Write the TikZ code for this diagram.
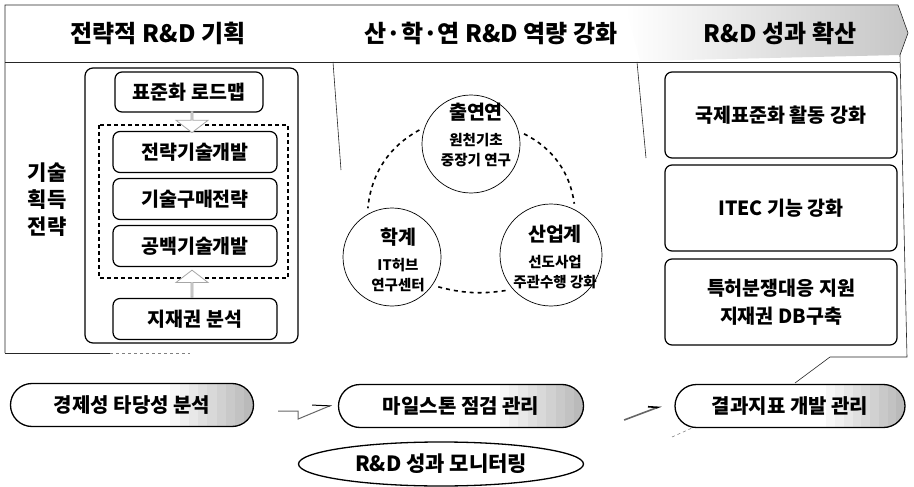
\documentclass[tikz,border=0pt]{standalone}
\usepackage{fontspec}
\setmainfont{Noto Sans CJK KR}
\usetikzlibrary{shapes.misc,shapes.arrows,shapes.geometric,calc,arrows.meta}
\tikzset{
  frameline/.style={line width=0.6pt, black!85},
  headtext/.style={font=\bfseries\fontsize{24}{26}\selectfont},
  bigbox/.style={draw, line width=1.2pt, rounded corners=7pt, inner sep=0pt, align=center},
  lbox/.style={bigbox, minimum width=164pt, minimum height=41pt, font=\bfseries\fontsize{19.5}{21}\selectfont},
  rbox/.style={bigbox, minimum width=232pt, minimum height=86pt, font=\bfseries\fontsize{19.5}{28}\selectfont},
  groupcircle/.style={circle, draw, line width=0.7pt, inner sep=0pt},
  circletext/.style={align=center, font=\bfseries\fontsize{14.5}{20}\selectfont},
  pill/.style={rounded rectangle, draw, line width=1.3pt, minimum height=43pt, inner sep=0pt,
    font=\bfseries\fontsize{20}{22}\selectfont,
    path picture={\foreach \i [evaluate=\i as \g using int(\i*6)] in {0,...,9}
      \fill[gray!\g] ($(path picture bounding box.south west)!{0.62+0.038*\i}!(path picture bounding box.south east)$)
      rectangle ($(path picture bounding box.north west)!{0.662+0.038*\i}!(path picture bounding box.north east)$);}},
  dotline/.style={line width=1.6pt, dash pattern=on 4pt off 4pt, shorten <=6pt, shorten >=6pt},
  blockarrow/.style={single arrow, draw=gray!70, line width=0.8pt, fill=white, inner sep=0pt,
    minimum width=32pt, single arrow head extend=7pt, single arrow tip angle=105},
  zigarrow/.style={line width=1pt, gray!80!black, -{Straight Barb[left, length=16pt, width=15pt, black]}}
}
\newcommand{\circhead}[1]{{\fontsize{19.5}{19.5}\selectfont #1}\\[6pt]}

\begin{document}
\begin{tikzpicture}[x=1pt,y=-1pt]
\useasboundingbox (0,0) rectangle (914,487);
% header band
\shade[left color=white, right color=gray!45] (625,6) -- (898,6) -- (908,33) -- (900,55) -- (640,61) -- cycle;
\draw[frameline] (5,353) -- (5,5) -- (898,5) -- (908,33) -- (900,55) -- (907,357) -- (830,357) -- (795,383);
\draw[frameline] (5,62) -- (900,62);
\draw[frameline] (5,353) -- (110,353);
\draw[frameline, gray, dashed] (110,353) -- (190,353);
\draw[frameline] (333,62) -- (341,170);
\draw[frameline] (637,62) -- (646,158);
\draw[frameline, gray, dashed] (672,437) -- (692,428);
\node[headtext] (hplan) at (158,33) {전략적 R\&D 기획};
\node[headtext] (hcap) at (491,33) {산·학·연 R\&D 역량 강화};
\node[headtext] (hspread) at (780,33) {R\&D 성과 확산};

% left: technology acquisition
\node[font=\bfseries\fontsize{21}{27}\selectfont, align=center] (acq) at (47,200) {기술\\획득\\전략};
\draw[line width=1.2pt, rounded corners=8pt] (85,68) rectangle (298,343);
\draw[line width=1.4pt, dash pattern=on 4pt off 3pt] (99,125) rectangle (288,278);
\node[lbox, minimum width=148pt, minimum height=40pt] (road) at (189,92) {표준화 로드맵};
\node[lbox] (strat) at (195,152) {전략기술개발};
\node[lbox] (buy) at (195,199) {기술구매전략};
\node[lbox] (blank) at (195,246) {공백기술개발};
\node[lbox] (ipr) at (195,319) {지재권 분석};
\node[blockarrow, shape border rotate=270, minimum height=21pt] (toroad) at ($(road.south)!0.5!(strat.north)$) {};
\node[blockarrow, shape border rotate=90, minimum height=27pt] (toblank) at (192,284) {};

% middle: three partners
\node[groupcircle, minimum size=98pt] (chul) at (471,144) {};
\node[groupcircle, minimum size=98pt] (hak) at (392,257) {};
\node[groupcircle, minimum size=102pt] (san) at (551,255) {};
\node[circletext] (chultext) at (476,135) {\circhead{출연연}원천기초\\중장기 연구};
\node[circletext] (haktext) at (398,260) {\circhead{학계}IT허브\\연구센터};
\node[circletext] (santext) at (555,257) {\circhead{산업계}선도사업\\주관수행 강화};
\draw[dotline] (chul.160) to[bend right=28] (hak.120);
\draw[dotline] (chul.15) to[bend left=28] (san.62);
\draw[dotline] (hak.-35) to[bend right=12] (san.222);

% right: spreading results
\node[rbox] (iso) at (781,115) {국제표준화 활동 강화};
\node[rbox] (itec) at (781,208) {ITEC 기능 강화};
\node[rbox] (patent) at (781,302) {특허분쟁대응 지원\\지재권 DB구축};

% bottom: monitoring
\node[pill, minimum width=243pt] (eco) at (132,405) {경제성 타당성 분석};
\node[pill, minimum width=245pt] (mile) at (461,406) {마일스톤 점검 관리};
\node[pill, minimum width=230pt] (result) at (790,406) {결과지표 개발 관리};
\draw[zigarrow] ($(eco.east)+(24,6)$) -- ++(20,0) -- ++(0,8) -- ($(mile.west)+(-6,-1)$);
\draw[zigarrow, -{Straight Barb[left, length=9pt, width=8pt, black]}, line width=1.6pt] ($(mile.east)+(40,14)$) -- ($(result.west)+(-13,0)$);
\node[ellipse, draw, line width=1.3pt, minimum width=285pt, minimum height=44pt, inner sep=0pt,
  font=\bfseries\fontsize{21}{23}\selectfont] (mon) at (441,464) {R\&D 성과 모니터링};
\end{tikzpicture}
\end{document}
